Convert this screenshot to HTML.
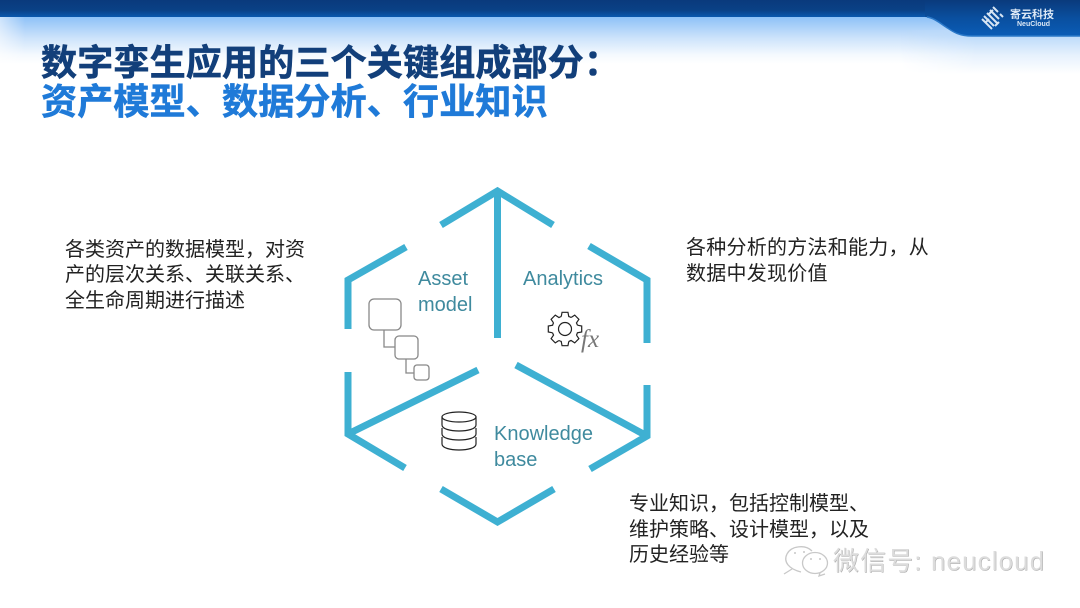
<!DOCTYPE html>
<html lang="zh">
<head>
<meta charset="utf-8">
<style>
html,body{margin:0;padding:0;background:#fff}
#p{position:relative;width:1080px;height:608px;overflow:hidden;background:#fff;font-family:"Liberation Sans","Noto Sans CJK SC",sans-serif}
svg{position:absolute;left:0;top:0}
.t{position:absolute;white-space:nowrap;font-size:36px;font-weight:bold;line-height:39px;letter-spacing:.2px;-webkit-text-stroke:.6px currentColor}
.b{position:absolute;white-space:nowrap;font-size:20px;line-height:25.5px;color:#222}
.e{position:absolute;white-space:nowrap;font-size:20px;line-height:26px;color:#3f8a9e}
</style>
</head>
<body>
<div id="p">
<svg width="1080" height="608" viewBox="0 0 1080 608">
<defs>
<linearGradient id="sky" gradientUnits="userSpaceOnUse" x1="0" y1="17" x2="0" y2="64">
<stop offset="0" stop-color="#8ec1f7"/><stop offset=".45" stop-color="#cde3fb"/><stop offset=".8" stop-color="#f4f9fe"/><stop offset="1" stop-color="#fff"/>
</linearGradient>
<linearGradient id="sky2" gradientUnits="userSpaceOnUse" x1="0" y1="36" x2="0" y2="74">
<stop offset="0" stop-color="#bcdafa"/><stop offset=".5" stop-color="#e6f1fd"/><stop offset="1" stop-color="#fff"/>
</linearGradient>
<linearGradient id="fx" gradientUnits="userSpaceOnUse" x1="900" y1="0" x2="975" y2="0">
<stop offset="0" stop-color="#000"/><stop offset="1" stop-color="#fff"/>
</linearGradient>
<mask id="m" maskUnits="userSpaceOnUse" x="900" y="20" width="180" height="60">
<rect x="900" y="20" width="180" height="60" fill="url(#fx)"/>
</mask>
<linearGradient id="bar" gradientUnits="userSpaceOnUse" x1="0" y1="0" x2="0" y2="17">
<stop offset="0" stop-color="#0a3a7c"/><stop offset=".6" stop-color="#0a4186"/><stop offset="1" stop-color="#0a58ae"/>
</linearGradient>
<linearGradient id="tab" gradientUnits="userSpaceOnUse" x1="0" y1="0" x2="0" y2="36">
<stop offset="0" stop-color="#0a3a7c"/><stop offset=".5" stop-color="#0a4f9f"/><stop offset="1" stop-color="#0b5cb6"/>
</linearGradient>
<linearGradient id="fadeL" x1="0" y1="0" x2="1" y2="0">
<stop offset="0" stop-color="#fff" stop-opacity=".55"/><stop offset="1" stop-color="#fff" stop-opacity="0"/>
</linearGradient>
</defs>
<rect x="0" y="17" width="1080" height="47" fill="url(#sky)"/>
<rect x="0" y="17" width="25" height="47" fill="url(#fadeL)"/>
<rect x="900" y="30" width="180" height="44" fill="url(#sky2)" mask="url(#m)"/>
<rect x="0" y="0" width="1080" height="17" fill="url(#bar)"/>
<path d="M925 0H1080V36H972C958 36 952 31 946 27C939 22 933 17 925 17Z" fill="url(#tab)"/>
<path d="M927 17C934 18 940 23 946 27C952 31 958 36 972 36H1080" fill="none" stroke="#2a78c8" stroke-width="1.500"/>
<g stroke="#d6e4f3" stroke-width="2">
<path d="M993 7l5 5M990 10l9 9M987 13l11 11M984 16l10 10M982 19l10 10M1000 14l3 3M995 26l4-4M988 15l5-5M986 22l3-3"/>
</g>
<g fill="none" stroke="#3eb0d2" stroke-width="7">
<path d="M441 225L497.500 191L553 225"/>
<path d="M497.500 191V338"/>
<path d="M406 247L348 280V329"/>
<path d="M589 246L647 280V343"/>
<path d="M348 372V434L405 468"/>
<path d="M348 434L478 370"/>
<path d="M647 385V436L590 469"/>
<path d="M647 436L516 365"/>
<path d="M441 489L497.500 522L554 489"/>
</g>
<g fill="none" stroke="#888" stroke-width="1.300">
<rect x="369" y="299" width="32" height="31" rx="5"/>
<rect x="395" y="336" width="23" height="23" rx="4"/>
<rect x="414" y="365" width="15" height="15" rx="3"/>
<path d="M384 330V347H395M406 359V373H414"/>
</g>
<g fill="none" stroke="#222" stroke-width="1.200">
<ellipse cx="459" cy="417" rx="17" ry="5"/>
<path d="M442 417V425C442 433 476 433 476 425V417"/>
<path d="M442 428V434C442 442 476 442 476 434V428"/>
<path d="M442 437V444C442 452 476 452 476 444V437"/>
</g>
<g transform="translate(565 329)" fill="none" stroke="#222" stroke-width="1.200">
<circle r="6.500"/>
<path transform="rotate(0)" d="M-3.800 -12.400L-2.950 -16.700L2.950 -16.700L3.800 -12.400A13 13 0 0 1 6.100 -11.480"/>
<path transform="rotate(45)" d="M-3.800 -12.400L-2.950 -16.700L2.950 -16.700L3.800 -12.400A13 13 0 0 1 6.100 -11.480"/>
<path transform="rotate(90)" d="M-3.800 -12.400L-2.950 -16.700L2.950 -16.700L3.800 -12.400A13 13 0 0 1 6.100 -11.480"/>
<path transform="rotate(135)" d="M-3.800 -12.400L-2.950 -16.700L2.950 -16.700L3.800 -12.400A13 13 0 0 1 6.100 -11.480"/>
<path transform="rotate(180)" d="M-3.800 -12.400L-2.950 -16.700L2.950 -16.700L3.800 -12.400A13 13 0 0 1 6.100 -11.480"/>
<path transform="rotate(225)" d="M-3.800 -12.400L-2.950 -16.700L2.950 -16.700L3.800 -12.400A13 13 0 0 1 6.100 -11.480"/>
<path transform="rotate(270)" d="M-3.800 -12.400L-2.950 -16.700L2.950 -16.700L3.800 -12.400A13 13 0 0 1 6.100 -11.480"/>
<path transform="rotate(315)" d="M-3.800 -12.400L-2.950 -16.700L2.950 -16.700L3.800 -12.400A13 13 0 0 1 6.100 -11.480"/>
</g>
<text x="581" y="347" font-family="Liberation Serif,serif" font-style="italic" font-size="25" fill="#777">fx</text>
<g fill="none" stroke="#c8c8c8" stroke-width="1.300">
<path d="M801 572C789 569 783 562 787 554C791 546 805 544 812 551"/>
<path d="M784 574L792 569"/>
<ellipse cx="815" cy="563" rx="12.500" ry="10.500"/>
<path d="M820 573L819 576L825 574"/>
</g>
<g fill="#c8c8c8"><circle cx="811" cy="559" r="1"/><circle cx="820" cy="559" r="1"/><circle cx="795" cy="553" r="1"/><circle cx="804" cy="552" r="1"/></g>
</svg>
<div class="t" style="left:41px;top:43px;color:#123f7a">数字孪生应用的三个关键组成部分：</div>
<div class="t" style="left:41px;top:82px;color:#1f7ad8">资产模型、数据分析、行业知识</div>
<div style="position:absolute;left:1010px;top:9px;font-size:11px;line-height:12px;font-weight:bold;color:#dce8f5;white-space:nowrap">寄云科技</div>
<div style="position:absolute;left:1017px;top:21px;font-size:7px;line-height:8px;font-weight:bold;color:#dce8f5;white-space:nowrap">NeuCloud</div>
<div class="b" style="left:65px;top:237.500px">各类资产的数据模型，对资<br>产的层次关系、关联关系、<br>全生命周期进行描述</div>
<div class="b" style="left:686px;top:236px;letter-spacing:.25px">各种分析的方法和能力，从<br>数据中发现价值</div>
<div class="b" style="left:629px;top:492px">专业知识，包括控制模型、<br>维护策略、设计模型，以及<br>历史经验等</div>
<div class="e" style="left:418px;top:266px">Asset<br>model</div>
<div class="e" style="left:523px;top:266px">Analytics</div>
<div class="e" style="left:494px;top:421px">Knowledge<br>base</div>
<div style="position:absolute;left:833px;top:546px;font-size:26px;line-height:30px;color:#dcdcdc;text-shadow:.5px .5px 0 #a8a8a8;white-space:nowrap;letter-spacing:1.100px">微信号: neucloud</div>
</div>
</body>
</html>
